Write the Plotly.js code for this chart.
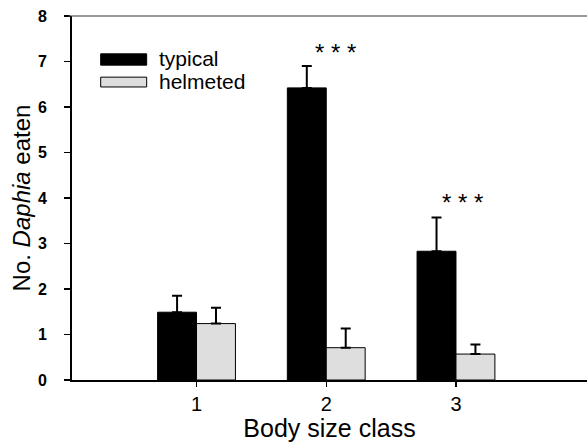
<!DOCTYPE html>
<html>
<head>
<meta charset="utf-8">
<script src="https://cdn.plot.ly/plotly-3.0.1.min.js"></script>
<style>html,body{margin:0;padding:0;background:#fff;}#chart{width:587px;height:442px;}</style>
</head>
<body>
<div id="chart"></div>
<script>
const categories = [1, 2, 3];
const tickLabels = ["1", "2", "3"];
const typical = [1.49, 6.42, 2.83];
const typicalErr = [0.36, 0.48, 0.74];
const helmeted = [1.24, 0.71, 0.57];
const helmetedErr = [0.35, 0.42, 0.21];
const seriesNames = ["typical", "helmeted"];
const sigLabels = ["* * *", "* * *"];
const sigX = [2.07, 3.05];
const sigY = [7.2, 3.9];

const FONT = "Liberation Sans, Arial, sans-serif";

const traces = [
  {
    type: "bar", x: categories, y: typical, name: seriesNames[0],
    marker: {color: "#000000", line: {color: "#000", width: 1}},
    error_y: {type: "data", symmetric: false, array: typicalErr, arrayminus: typicalErr.map(() => 0),
      color: "#000", thickness: 2, width: 5}
  },
  {
    type: "bar", x: categories, y: helmeted, name: seriesNames[1],
    marker: {color: "#dedede", line: {color: "#000", width: 1}},
    error_y: {type: "data", symmetric: false, array: helmetedErr, arrayminus: helmetedErr.map(() => 0),
      color: "#000", thickness: 2, width: 5}
  }
];

const annotations = sigLabels.map((t, i) => ({
  x: sigX[i], y: sigY[i], xref: "x", yref: "y", text: t, showarrow: false,
  font: {family: FONT, size: 24, color: "#000"}, xanchor: "center", yanchor: "middle"
}));
annotations.push(
  {x: 0.165, y: 0.882, xref: "paper", yref: "paper", text: seriesNames[0], showarrow: false,
   xanchor: "left", yanchor: "middle", font: {family: FONT, size: 21, color: "#000"}},
  {x: 0.165, y: 0.819, xref: "paper", yref: "paper", text: seriesNames[1], showarrow: false,
   xanchor: "left", yanchor: "middle", font: {family: FONT, size: 21, color: "#000"}}
);

const shapes = [
  {type: "rect", xref: "paper", yref: "paper", x0: 0.0557, x1: 0.145, y0: 0.865, y1: 0.896,
   fillcolor: "#000", line: {color: "#000", width: 1}},
  {type: "rect", xref: "paper", yref: "paper", x0: 0.0557, x1: 0.145, y0: 0.805, y1: 0.832,
   fillcolor: "#dedede", line: {color: "#000", width: 1}},
  {type: "line", xref: "paper", yref: "paper", x0: -0.008, x1: 1, y0: 1, y1: 1,
   line: {color: "#333", width: 1}}
];

const layout = {
  width: 587, height: 442,
  margin: {l: 72, r: 0, t: 16, b: 62},
  paper_bgcolor: "#fff", plot_bgcolor: "#fff",
  showlegend: false,
  barmode: "group", bargap: 0.4, bargroupgap: 0,
  font: {family: FONT, color: "#000"},
  xaxis: {
    range: [0.04, 4.01], tickvals: categories, ticktext: tickLabels,
    ticks: "outside", ticklen: 5, tickwidth: 1.5, tickcolor: "#000",
    showline: true, linecolor: "#000", linewidth: 2, showgrid: false, zeroline: false,
    tickfont: {family: FONT, size: 20, color: "#000"},
    title: {text: "Body size class", font: {family: FONT, size: 25, color: "#000"}, standoff: 8},
    automargin: false
  },
  yaxis: {
    range: [0, 8], tickvals: [0,1,2,3,4,5,6,7,8],
    ticks: "outside", ticklen: 6, tickwidth: 1.5, tickcolor: "#000",
    ticklabelstandoff: 14,
    showline: true, linecolor: "#000", linewidth: 2, showgrid: false, zeroline: false,
    tickfont: {family: FONT, size: 16, color: "#000", weight: "bold"},
    title: {text: "No. <i>Daphia</i> eaten", font: {family: FONT, size: 24, color: "#000"}, standoff: 0},
    automargin: true
  },
  annotations: annotations,
  shapes: shapes
};

Plotly.newPlot("chart", traces, layout, {staticPlot: true, displayModeBar: false});
</script>
</body>
</html>
